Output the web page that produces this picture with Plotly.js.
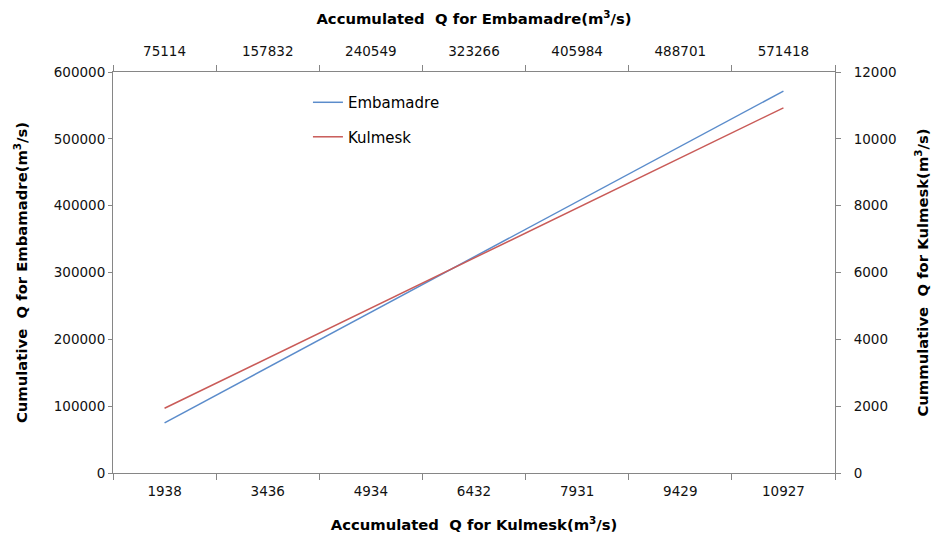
<!DOCTYPE html>
<html>
<head>
<meta charset="utf-8">
<script src="https://cdn.plot.ly/plotly-3.0.1.min.js"></script>
<style>html,body{margin:0;padding:0;background:#fff;}#chart{width:931px;height:540px;}</style>
</head>
<body>
<div id="chart"></div>
<script>
// Accumulated discharge values (m3/s)
var kulmeskQ = [1938, 3436, 4934, 6432, 7931, 9429, 10927];
var embamadreQ = [75114, 157832, 240549, 323266, 405984, 488701, 571418];
var seriesNames = ["Embamadre", "Kulmesk"];

var FONT = "DejaVu Sans";
var axisGray = "#868686";
var kLabels = kulmeskQ.map(String);
var eLabels = embamadreQ.map(String);

var traces = [
  {
    x: kLabels, y: embamadreQ,
    xaxis: "x", yaxis: "y",
    name: seriesNames[0], mode: "lines", legendgroup: "a",
    line: {color: "#5B8CCB", width: 1.5}
  },
  {
    x: kLabels, y: kulmeskQ,
    xaxis: "x", yaxis: "y2",
    name: seriesNames[1], mode: "lines", legendgroup: "b",
    line: {color: "#C95B58", width: 1.5}
  },
  {
    // carries the top category axis (Embamadre accumulated Q labels)
    x: eLabels, y: embamadreQ,
    xaxis: "x2", yaxis: "y",
    mode: "lines", showlegend: false, hoverinfo: "skip",
    line: {color: "rgba(0,0,0,0)", width: 0}
  }
];

var tickFont = {family: FONT, size: 13.5, color: "#111"};
var titleFont = {family: FONT, size: 14.8, color: "#000", weight: "bold"};

var layout = {
  width: 931, height: 540,
  margin: {l: 113, r: 96, t: 72, b: 67},
  paper_bgcolor: "#fff", plot_bgcolor: "#fff",
  showlegend: true,
  legend: {
    x: 0.27, y: 0.965, xanchor: "left", yanchor: "top",
    font: {family: FONT, size: 15, color: "#000"},
    bgcolor: "rgba(0,0,0,0)", traceorder: "grouped", tracegroupgap: 12
  },
  xaxis: {
    type: "category", categoryorder: "array", categoryarray: kLabels,
    range: [-0.5, 6.5], tickson: "boundaries",
    ticks: "outside", ticklen: 6, tickcolor: axisGray,
    showline: true, linecolor: axisGray, linewidth: 1,
    showgrid: false, zeroline: false,
    tickfont: tickFont, ticklabelstandoff: 6,
    title: {text: "Accumulated  Q for Kulmesk(m<sup>3</sup>/s)", font: titleFont, standoff: 21}
  },
  xaxis2: {
    type: "category", categoryorder: "array", categoryarray: eLabels,
    overlaying: "x", side: "top", anchor: "y",
    range: [-0.5, 6.5], tickson: "boundaries",
    ticks: "outside", ticklen: 6, tickcolor: axisGray,
    showline: true, linecolor: axisGray, linewidth: 1,
    showgrid: false, zeroline: false,
    tickfont: tickFont, ticklabelstandoff: 10,
    title: {text: "Accumulated  Q for Embamadre(m<sup>3</sup>/s)", font: titleFont, standoff: 14}
  },
  yaxis: {
    range: [0, 600000], dtick: 100000, tick0: 0,
    ticks: "outside", ticklen: 4, tickcolor: axisGray,
    showline: true, linecolor: axisGray, linewidth: 1,
    showgrid: false, zeroline: false,
    tickfont: tickFont, tickformat: "d",
    title: {text: "Cumulative  Q for Embamadre(m<sup>3</sup>/s)", font: titleFont, standoff: 22}
  },
  yaxis2: {
    overlaying: "y", side: "right", anchor: "x",
    range: [0, 12000], dtick: 2000, tick0: 0,
    ticks: "outside", ticklen: 5, tickcolor: axisGray,
    showline: true, linecolor: axisGray, linewidth: 1,
    showgrid: false, zeroline: false,
    tickfont: tickFont, tickformat: "d", ticklabelstandoff: 10,
    title: {text: "Cummulative  Q for Kulmesk(m<sup>3</sup>/s)", font: titleFont, standoff: 22}
  }
};

Plotly.newPlot("chart", traces, layout, {displayModeBar: false, staticPlot: true});
</script>
</body>
</html>
